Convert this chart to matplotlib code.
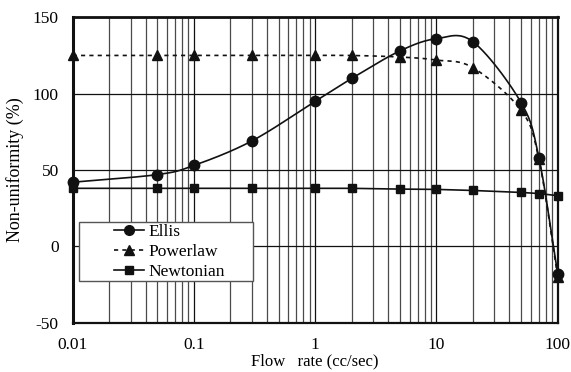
import numpy as np
import matplotlib
matplotlib.use("Agg")
import matplotlib.pyplot as plt
from matplotlib.ticker import LogLocator, FixedLocator, NullFormatter
from matplotlib.lines import Line2D
from matplotlib.patches import Rectangle

flow = [0.01, 0.05, 0.1, 0.3, 1, 2, 5, 10, 20, 50, 70, 100]
ellis = [42, 47, 53, 69, 95, 110, 128, 136, 134, 94, 58, -18]
powerlaw = [125, 125, 125, 125, 125, 125, 124, 122, 117, 89, 57, -20]
newtonian = [38, 38, 38, 38, 38, 38, 37.5, 37.3, 36.6, 35.3, 34.6, 33.2]
series_names = ["Ellis", "Powerlaw", "Newtonian"]
xtick_labels = ["0.01", "0.1", "1", "10", "100"]


def smooth(xs, ys, n=40):
    # Catmull-Rom spline in (log x, y) space, like a spreadsheet smoothed line
    lx = np.log10(np.asarray(xs, float))
    y = np.asarray(ys, float)
    px = np.concatenate([[2 * lx[0] - lx[1]], lx, [2 * lx[-1] - lx[-2]]])
    py = np.concatenate([[2 * y[0] - y[1]], y, [2 * y[-1] - y[-2]]])
    outx, outy = [], []
    t = np.linspace(0, 1, n)
    for i in range(1, len(px) - 2):
        p0, p1, p2, p3 = px[i - 1], px[i], px[i + 1], px[i + 2]
        q0, q1, q2, q3 = py[i - 1], py[i], py[i + 1], py[i + 2]
        bx1 = p1 + (p2 - p0) / 6
        bx2 = p2 - (p3 - p1) / 6
        by1 = q1 + (q2 - q0) / 6
        by2 = q2 - (q3 - q1) / 6
        bx = (1 - t) ** 3 * p1 + 3 * (1 - t) ** 2 * t * bx1 + 3 * (1 - t) * t ** 2 * bx2 + t ** 3 * p2
        by = (1 - t) ** 3 * q1 + 3 * (1 - t) ** 2 * t * by1 + 3 * (1 - t) * t ** 2 * by2 + t ** 3 * q2
        outx.extend(bx)
        outy.extend(by)
    return 10 ** np.array(outx), np.array(outy)


plt.rcParams["font.family"] = ["Liberation Serif", "DejaVu Serif"]
plt.rcParams["axes.unicode_minus"] = False

fig = plt.figure(figsize=(5.71, 3.72), dpi=100)
ax = fig.add_axes([0.1273, 0.1325, 0.8494, 0.821])

ax.set_xscale("log")
ax.set_xlim(0.01, 100)
ax.set_ylim(-50, 150)

ax.xaxis.set_major_locator(FixedLocator([0.01, 0.1, 1, 10, 100]))
ax.xaxis.set_minor_locator(LogLocator(base=10, subs=np.arange(2, 10)))
ax.xaxis.set_minor_formatter(NullFormatter())
ax.set_xticklabels(xtick_labels)
ax.set_yticks([-50, 0, 50, 100, 150])
ax.grid(True, which="major", color="#111111", lw=0.9)
ax.grid(True, which="minor", axis="x", color="#4a4a4a", lw=0.9)
ax.tick_params(which="both", length=0, labelsize=12.5, colors="black")
ax.tick_params(axis="x", pad=10.5)
ax.tick_params(axis="y", pad=10)
ax.set_axisbelow(True)

for s in ax.spines.values():
    s.set_linewidth(1.6)
    s.set_color("#111111")
ax.spines["left"].set_linewidth(2.2)
ax.spines["top"].set_linewidth(2.0)

# Ellis
sx, sy = smooth(flow, ellis)
ax.plot(sx, sy, color="#111111", lw=1.2, zorder=3)
ax.plot(flow, ellis, ls="none", marker="o", ms=7.5, color="#111111", zorder=4, clip_on=False)

# Powerlaw
sx, sy = smooth(flow, powerlaw)
ax.plot(sx, sy, color="#111111", lw=1.2, ls=(0, (2.5, 2.5)), zorder=3)
ax.plot(flow, powerlaw, ls="none", marker="^", ms=6.5, color="#111111", zorder=4, clip_on=False)

# Newtonian
ax.plot(flow, newtonian, color="#111111", lw=1.2, marker="s", ms=5.5, zorder=3, clip_on=False)

# legend box
ax.add_patch(Rectangle((0.0136, 0.1375), 0.3588, 0.1932, transform=ax.transAxes,
                       facecolor="white", edgecolor="#555555", lw=1.0, zorder=5))
handles = [
    Line2D([], [], color="#111111", lw=1.2, marker="o", ms=7),
    Line2D([], [], color="#111111", lw=1.2, ls=(0, (2.5, 2.5)), marker="^", ms=6.5),
    Line2D([], [], color="#111111", lw=1.2, marker="s", ms=5.5),
]
leg = ax.legend(handles, series_names, loc="center left", bbox_to_anchor=(0.085, 0.2325),
                fontsize=12.5, frameon=False, handlelength=1.75, handletextpad=0.25,
                borderpad=0, labelspacing=0.22, borderaxespad=0)
leg.set_zorder(6)

ax.set_ylabel("Non-uniformity (%)", fontsize=13, labelpad=6)
ax.set_xlabel("Flow   rate (cc/sec)", fontsize=12, labelpad=0)

fig.savefig("out.png", dpi=100)
